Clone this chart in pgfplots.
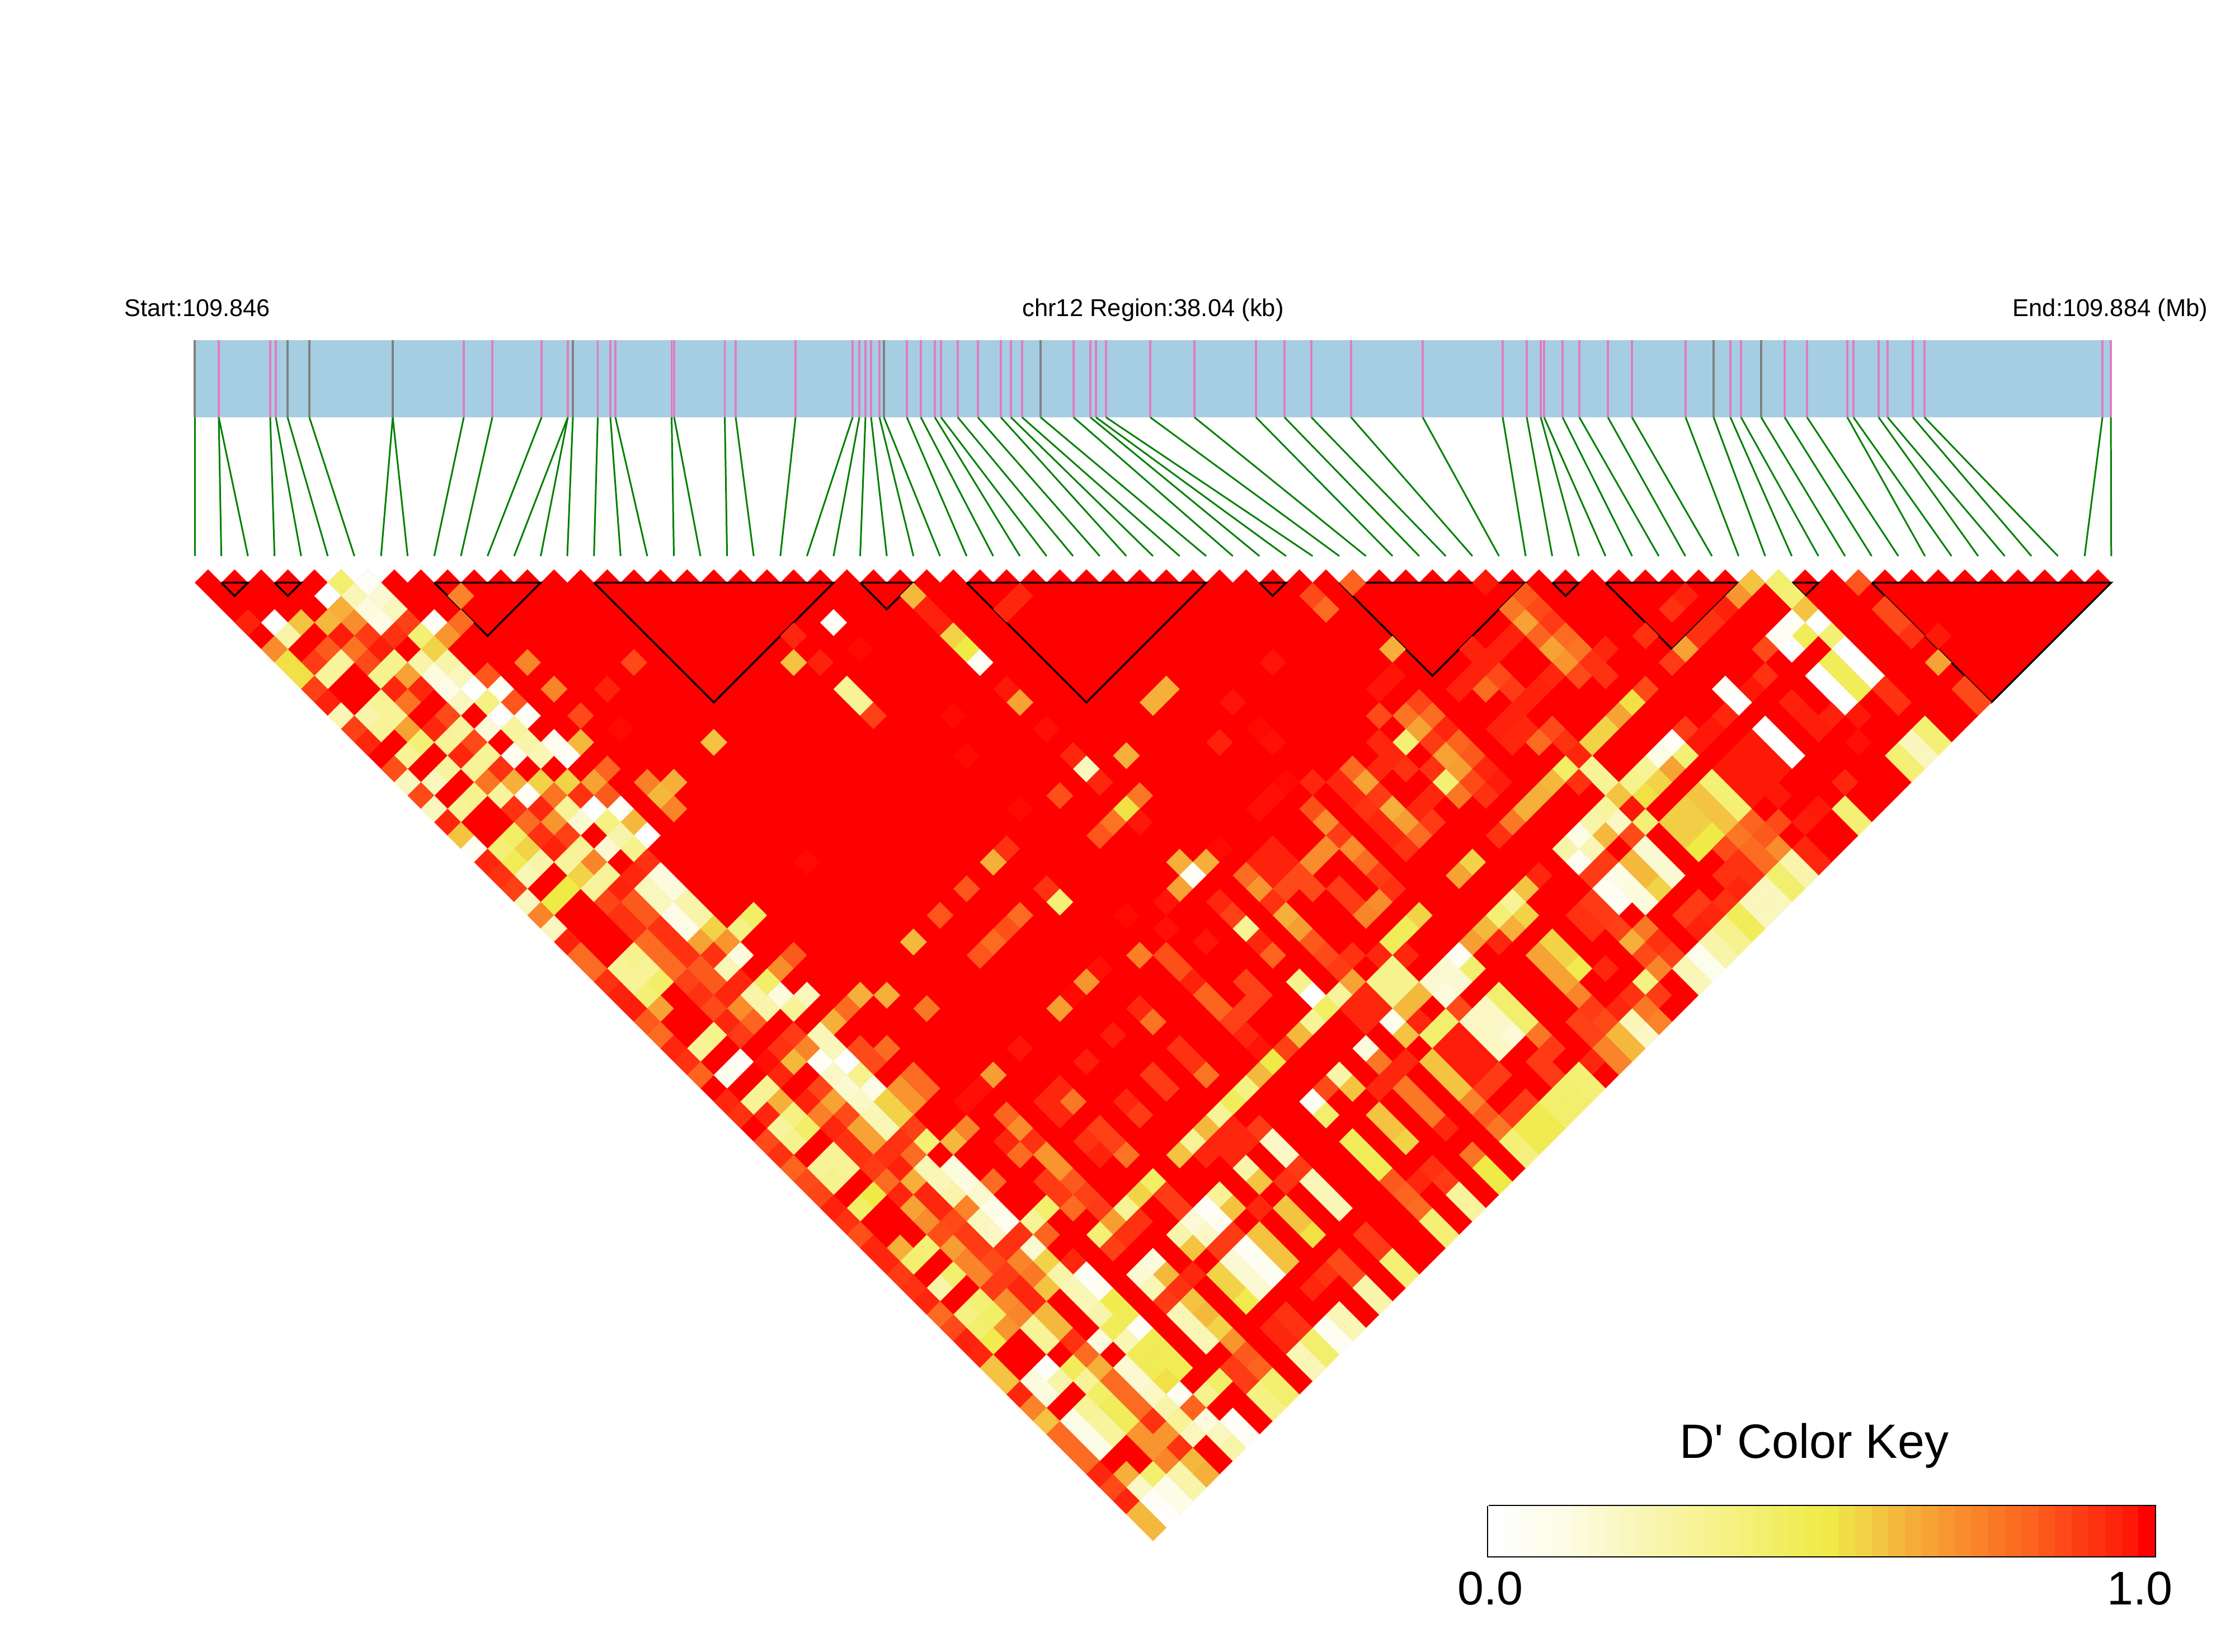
\documentclass[border=0pt]{standalone}
\usepackage{fontspec}
\setmainfont{Liberation Sans}
\newfontfamily\plainfont{Liberation Sans}
\usepackage{pgfplots}
\usepackage{pgfplotstable}
\pgfplotsset{compat=1.18}
\definecolor{barblue}{HTML}{A6CEE3}
\definecolor{snppink}{HTML}{E07CC0}
\definecolor{snpgrey}{HTML}{808080}
\definecolor{linkgreen}{HTML}{008000}
\pgfdeclareplotmark{ldcell}{%
  \pgfpathmoveto{\pgfqpoint{-6.83pt}{0pt}}\pgfpathlineto{\pgfqpoint{0pt}{6.83pt}}%
  \pgfpathlineto{\pgfqpoint{6.83pt}{0pt}}\pgfpathlineto{\pgfqpoint{0pt}{-6.83pt}}\pgfpathclose\pgfusepathqfill}
\pgfdeclareplotmark{keycell}{%
  \pgfpathrectangle{\pgfqpoint{-4.3pt}{-12.8pt}}{\pgfqpoint{8.6pt}{25.6pt}}\pgfusepathqfill}
% SNP: bar position (px), target position on the heat map (px)
\pgfplotstableread{
bar tgt
391 395.6
391 443.2
483 490.7
493 538.3
829 776.2
880 823.8
968 871.4
1015 919
1015 966.5
1068.5 1061.7
1091 1109.3
1100 1156.9
1200.5 1204.5
1205 1252
1295.5 1299.6
1315 1347.2
1422 1394.8
1524 1442.3
1536 1489.9
1547 1537.5
1557 1585.1
1572 1632.7
1621 1727.8
1646 1775.4
1671 1823
1682 1870.6
1712 1918.1
1748 1965.7
1789 2013.3
1807 2060.9
1827 2108.5
1919 2203.6
1949 2251.2
1959 2298.8
1977 2346.3
2056 2393.9
2135 2441.5
2245 2489.1
2296 2536.7
2344 2584.2
2415 2631.8
2543 2679.4
2686 2727
2729 2774.5
2754 2822.1
2760 2869.7
2793 2917.3
2823 2964.9
2874 3012.4
2917 3060
3013 3107.6
3093 3202.7
3112 3250.3
3190 3345.5
3230 3393.1
3302 3440.7
3313 3488.2
3358 3535.8
3374 3583.4
3419 3631
3440 3678.5
3758 3726.1
3773 3773.7
}\pinksnp
\pgfplotstableread{
bar tgt
348 348
514 585.9
553 633.5
702 681.1
702 728.6
1024 1014
1580 1680.2
1860 2156
3063 3155.2
3148 3297.9
}\greysnp
\newcommand{\blk}[4]{\addplot[black,line width=0.95pt,line join=miter,forget plot] table[row sep=crcr,x expr=348+23.79*\thisrow{u},y expr=1041.5+23.79*\thisrow{r}] {u r\\#1 0\\#2 0\\#3 #4\\#1 0\\};}
\begin{document}
\begin{tikzpicture}
\path[use as bounding box] (0,0) rectangle (39.95cm,29.53cm);
\begin{axis}[at={(0,0)},anchor=south west,scale only axis,width=39.95cm,height=29.53cm,
  xmin=0,xmax=3995,ymin=0,ymax=2953,y dir=reverse,hide axis,clip=false,
  colormap={ld}{rgb255(0cm)=(255,255,255) rgb255(10cm)=(253,252,230) rgb255(20cm)=(250,247,190) rgb255(30cm)=(247,243,150) rgb255(40cm)=(243,239,110) rgb255(50cm)=(240,234,70) rgb255(55cm)=(242,211,72) rgb255(60cm)=(244,184,61) rgb255(70cm)=(249,140,44) rgb255(80cm)=(252,100,31) rgb255(90cm)=(254,49,17) rgb255(100cm)=(255,0,0)},
  point meta min=0,point meta max=100]
% gene bar
\addplot[draw=none,fill=barblue,forget plot] coordinates {(348,607.5)(3774,607.5)(3774,746)(348,746)} --cycle;
\addplot[snppink,line width=1.1pt,forget plot,quiver={u=0,v=138.5}] table[x=bar,y expr=607.5] {\pinksnp};
\addplot[snpgrey,line width=1.1pt,forget plot,quiver={u=0,v=138.5}] table[x=bar,y expr=607.5] {\greysnp};
% links
\addplot[linkgreen,line width=0.85pt,forget plot,quiver={u=\thisrow{tgt}-\thisrow{bar},v=248}] table[x=bar,y expr=746] {\pinksnp};
\addplot[linkgreen,line width=0.85pt,forget plot,quiver={u=\thisrow{tgt}-\thisrow{bar},v=248}] table[x=bar,y expr=746] {\greysnp};
% cells at D'=1
\addplot[draw=none,fill=red,forget plot] table[row sep=crcr,x expr=348+23.79*\thisrow{u},y expr=1041.5+23.79*\thisrow{r}] {u r\\
0 0\\1 -1\\2 0\\3 -1\\4 0\\5 -1\\6 0\\7 -1\\8 0\\9 -1\\10 0\\11 -1\\12 0\\13 -1\\14 0\\15 -1\\16 0\\17 -1\\18 0\\19 -1\\20 0\\21 -1\\22 0\\23 -1\\24 0\\25 -1\\26 0\\27 -1\\28 0\\29 -1\\30 0\\31 -1\\32 0\\33 -1\\34 0\\35 -1\\36 0\\37 -1\\38 0\\39 -1\\40 0\\41 -1\\42 0\\43 -1\\44 0\\45 -1\\46 0\\47 -1\\48 0\\49 -1\\50 0\\51 -1\\52 0\\53 -1\\54 0\\55 -1\\56 0\\57 -1\\58 0\\59 -1\\60 0\\61 -1\\62 0\\63 -1\\64 0\\65 -1\\66 0\\67 -1\\68 0\\69 -1\\70 0\\71 -1\\72 0\\73 -1\\74 0\\75 -1\\76 0\\77 -1\\78 0\\79 -1\\80 0\\81 -1\\82 0\\83 -1\\84 0\\85 -1\\86 0\\87 -1\\88 0\\89 -1\\90 0\\91 -1\\92 0\\93 -1\\94 0\\95 -1\\96 0\\97 -1\\98 0\\99 -1\\100 0\\101 -1\\102 0\\103 -1\\104 0\\105 -1\\106 0\\107 -1\\108 0\\109 -1\\110 0\\111 -1\\112 0\\113 -1\\114 0\\115 -1\\116 0\\117 -1\\118 0\\119 -1\\120 0\\121 -1\\122 0\\123 -1\\124 0\\125 -1\\126 0\\127 -1\\128 0\\129 -1\\130 0\\131 -1\\132 0\\133 -1\\134 0\\135 -1\\136 0\\137 -1\\138 0\\139 -1\\140 0\\141 -1\\142 0\\143 -1\\144 0\\72 72\\0 0\\};
% cells at D'<1: position along the row, row, D' in percent
\addplot[scatter,only marks,mark=ldcell,scatter/use mapped color={fill=mapped color,draw=none},forget plot,
  point meta=\thisrow{v}] table[row sep=crcr,x expr=348+23.79*\thisrow{u},y expr=1041.5+23.79*\thisrow{r}] {u r v\\
11 0 40\\13 0 4\\87 0 80\\97 0 95\\117 0 58\\119 0 40\\125 0 83\\
10 1 0\\12 1 22\\14 1 15\\20 1 72\\54 1 60\\62 1 92\\84 1 85\\100 1 82\\112 1 93\\116 1 68\\120 1 38\\
11 2 62\\13 2 12\\15 2 20\\55 2 93\\61 2 92\\85 2 78\\99 2 75\\101 2 85\\111 2 90\\115 2 93\\121 2 58\\127 2 85\\
4 3 93\\6 3 0\\8 3 58\\10 3 60\\12 3 70\\14 3 10\\16 3 87\\18 3 4\\20 3 78\\48 3 4\\56 3 93\\100 3 65\\102 3 88\\114 3 90\\120 3 4\\122 3 0\\128 3 85\\
7 4 25\\11 4 94\\13 4 88\\15 4 90\\17 4 38\\19 4 68\\45 4 92\\57 4 55\\99 4 93\\101 4 80\\103 4 78\\109 4 90\\113 4 90\\119 4 4\\121 4 45\\123 4 38\\129 4 90\\131 4 95\\
6 5 70\\10 5 82\\12 5 76\\14 5 94\\18 5 55\\50 5 98\\58 5 50\\90 5 62\\96 5 93\\98 5 93\\102 5 65\\104 5 76\\106 5 92\\112 5 65\\118 5 85\\120 5 0\\124 5 0\\
7 6 52\\9 6 88\\11 6 28\\13 6 85\\15 6 32\\17 6 25\\19 6 25\\25 6 72\\33 6 85\\45 6 58\\47 6 93\\59 6 4\\81 6 96\\97 6 93\\103 6 68\\105 6 90\\111 6 88\\123 6 45\\125 6 0\\131 6 65\\
8 7 52\\10 7 28\\14 7 32\\16 7 65\\18 7 12\\20 7 20\\22 7 83\\90 7 96\\96 7 93\\98 7 85\\102 7 92\\104 7 85\\106 7 90\\118 7 90\\122 7 0\\124 7 45\\126 7 3\\
9 8 87\\15 8 92\\17 8 92\\19 8 10\\21 8 0\\23 8 4\\27 8 72\\31 8 93\\49 8 30\\61 8 95\\73 8 62\\89 8 96\\95 8 93\\97 8 78\\99 8 88\\101 8 93\\109 8 85\\115 8 3\\117 8 95\\123 8 0\\125 8 45\\127 8 90\\133 8 85\\
10 9 93\\14 9 30\\16 9 76\\20 9 20\\22 9 35\\24 9 83\\50 9 30\\62 9 65\\72 9 62\\78 9 96\\92 9 86\\100 9 93\\108 9 52\\116 9 0\\120 9 93\\124 9 0\\128 9 90\\134 9 85\\
11 10 22\\13 10 25\\15 10 30\\19 10 85\\23 10 2\\25 10 3\\29 10 85\\51 10 87\\57 10 98\\89 10 85\\91 10 76\\93 10 78\\99 10 93\\107 10 65\\115 10 92\\121 10 94\\123 10 93\\125 10 95\\
12 11 87\\14 11 30\\16 11 65\\18 11 92\\20 11 28\\22 11 14\\24 11 28\\32 11 98\\64 11 97\\80 11 98\\92 11 65\\94 11 92\\98 11 93\\100 11 92\\102 11 85\\106 11 55\\112 11 88\\114 11 95\\118 11 0\\122 11 94\\130 11 38\\
13 12 92\\17 12 38\\19 12 30\\21 12 85\\25 12 25\\27 12 6\\29 12 60\\39 12 58\\77 12 93\\81 12 97\\89 12 92\\91 12 38\\93 12 88\\95 12 80\\99 12 92\\101 12 78\\103 12 90\\105 12 55\\111 12 3\\113 12 95\\117 12 95\\119 12 0\\125 12 97\\129 12 20\\131 12 38\\
16 13 30\\20 13 92\\22 13 30\\24 13 6\\26 13 22\\28 13 3\\58 13 98\\66 13 92\\70 13 62\\90 13 92\\94 13 65\\96 13 82\\104 13 92\\110 13 10\\112 13 38\\116 13 95\\118 13 95\\120 13 0\\128 13 38\\130 13 20\\
15 14 84\\19 14 28\\21 14 30\\23 14 90\\31 14 80\\67 14 20\\87 14 78\\89 14 92\\91 14 90\\93 14 90\\95 14 66\\97 14 92\\103 14 42\\105 14 30\\109 14 30\\111 14 65\\115 14 95\\117 14 95\\119 14 95\\129 14 38\\
16 15 20\\18 15 20\\22 15 76\\24 15 62\\26 15 55\\28 15 55\\30 15 65\\34 15 73\\36 15 62\\68 15 92\\82 15 98\\84 15 92\\86 15 92\\88 15 65\\94 15 38\\96 15 85\\98 15 94\\102 15 60\\104 15 90\\106 15 30\\108 15 32\\110 15 55\\114 15 38\\116 15 95\\118 15 95\\124 15 92\\
17 16 85\\21 16 32\\23 16 28\\25 16 4\\27 16 76\\29 16 90\\31 16 82\\35 16 60\\65 16 84\\71 16 75\\81 16 97\\87 16 92\\89 16 88\\93 16 92\\95 16 75\\97 16 90\\101 16 62\\107 16 58\\109 16 52\\113 16 58\\115 16 38\\117 16 95\\119 16 95\\
18 17 20\\20 17 30\\24 17 90\\26 17 92\\28 17 30\\30 17 0\\32 17 3\\36 17 72\\62 17 98\\70 17 52\\80 17 97\\84 17 84\\88 17 90\\90 17 62\\92 17 92\\100 17 62\\106 17 28\\108 17 95\\112 17 56\\114 17 58\\116 17 38\\122 17 95\\124 17 38\\
19 18 92\\25 18 78\\27 18 68\\29 18 15\\31 18 35\\33 18 60\\69 18 76\\71 18 95\\85 18 70\\89 18 92\\91 18 66\\93 18 88\\99 18 75\\105 18 25\\107 18 18\\109 18 38\\111 18 56\\113 18 56\\115 18 58\\117 18 80\\119 18 85\\121 18 94\\125 18 38\\
20 19 58\\24 19 42\\26 19 90\\28 19 87\\32 19 25\\34 19 2\\68 19 83\\86 19 88\\90 19 92\\92 19 78\\98 19 90\\104 19 10\\106 19 60\\108 19 85\\112 19 56\\114 19 50\\116 19 75\\118 19 82\\
21 20 4\\23 20 38\\25 20 55\\27 20 93\\29 20 30\\31 20 15\\33 20 32\\61 20 90\\77 20 98\\81 20 93\\85 20 70\\87 20 70\\91 20 90\\103 20 25\\105 20 22\\109 20 15\\113 20 50\\115 20 85\\117 20 78\\119 20 70\\121 20 92\\
22 21 92\\24 21 46\\26 21 25\\28 21 28\\30 21 72\\34 21 90\\46 21 98\\60 21 62\\74 21 62\\76 21 62\\80 21 93\\82 21 93\\84 21 70\\88 21 78\\96 21 55\\104 21 5\\106 21 88\\108 21 60\\110 21 15\\116 21 90\\118 21 78\\120 21 25\\122 21 92\\
23 22 90\\25 22 22\\29 22 55\\31 22 30\\33 22 92\\35 22 12\\75 22 3\\79 22 78\\81 22 93\\83 22 85\\89 22 88\\95 22 65\\101 22 92\\105 22 88\\107 22 10\\109 22 60\\111 22 15\\115 22 90\\117 22 90\\119 22 40\\121 22 25\\
24 23 87\\28 23 50\\30 23 28\\32 23 93\\34 23 20\\36 23 12\\58 23 83\\64 23 90\\74 23 65\\80 23 68\\82 23 85\\84 23 85\\86 23 88\\90 23 90\\100 23 58\\106 23 5\\108 23 12\\110 23 55\\116 23 92\\118 23 20\\120 23 40\\
25 24 20\\27 24 50\\31 24 86\\33 24 82\\35 24 20\\37 24 25\\65 24 38\\73 24 96\\77 24 92\\81 24 90\\87 24 88\\89 24 70\\99 24 30\\105 24 88\\107 24 3\\109 24 12\\113 24 88\\115 24 90\\117 24 20\\119 24 20\\
26 25 72\\32 25 90\\34 25 82\\36 25 10\\38 25 25\\42 25 42\\56 25 83\\62 25 78\\70 25 98\\78 25 87\\82 25 62\\88 25 72\\92 25 55\\98 25 38\\100 25 55\\104 25 90\\106 25 88\\112 25 88\\114 25 92\\116 25 45\\118 25 20\\
27 26 20\\33 26 90\\35 26 90\\37 26 10\\39 26 55\\41 26 35\\61 26 84\\73 26 97\\79 26 30\\83 26 66\\91 26 45\\97 26 60\\99 26 62\\105 26 90\\107 26 87\\109 26 75\\113 26 93\\115 26 32\\117 26 45\\
28 27 93\\34 27 78\\36 27 90\\38 27 65\\40 27 68\\54 27 60\\60 27 78\\76 27 96\\80 27 92\\84 27 82\\90 27 45\\96 27 66\\98 27 92\\102 27 55\\108 27 62\\110 27 90\\114 27 25\\116 27 32\\
29 28 78\\33 28 32\\35 28 78\\37 28 90\\39 28 90\\41 28 12\\45 28 82\\59 28 83\\71 28 73\\73 28 84\\81 28 80\\85 28 85\\87 28 90\\89 28 92\\91 28 92\\95 28 3\\101 28 65\\103 28 55\\109 28 85\\111 28 87\\113 28 8\\115 28 25\\
30 29 78\\32 29 30\\34 29 30\\36 29 78\\38 29 82\\40 29 22\\44 29 70\\68 29 97\\74 29 84\\86 29 88\\90 29 32\\94 29 15\\96 29 40\\102 29 65\\104 29 48\\106 29 92\\110 29 72\\112 29 22\\114 29 8\\
31 30 90\\33 30 30\\35 30 42\\37 30 87\\39 30 82\\41 30 92\\43 30 42\\67 30 68\\75 30 93\\79 30 87\\83 30 32\\87 30 65\\89 30 32\\91 30 32\\93 30 15\\95 30 15\\103 30 65\\109 30 35\\113 30 22\\
32 31 93\\34 31 38\\38 31 90\\40 31 92\\42 31 25\\44 31 12\\46 31 20\\50 31 62\\52 31 62\\66 31 98\\76 31 80\\80 31 87\\84 31 0\\86 31 28\\88 31 92\\90 31 32\\92 31 60\\94 31 12\\98 31 40\\104 31 72\\108 31 90\\110 31 88\\
33 32 94\\35 32 65\\39 32 85\\41 32 70\\43 32 25\\45 32 30\\49 32 78\\55 32 75\\65 32 66\\71 32 92\\77 32 80\\79 32 87\\85 32 42\\87 32 92\\89 32 92\\91 32 60\\95 32 85\\97 32 18\\99 32 40\\105 32 88\\107 32 92\\109 32 75\\
34 33 82\\40 33 92\\42 33 80\\48 33 62\\72 33 76\\78 33 87\\84 33 30\\88 33 92\\90 33 8\\92 33 92\\94 33 40\\96 33 18\\98 33 18\\100 33 40\\104 33 87\\106 33 85\\108 33 22\\110 33 72\\
35 34 78\\39 34 32\\41 34 88\\45 34 88\\47 34 22\\69 34 94\\79 34 92\\83 34 60\\91 34 58\\93 34 40\\95 34 94\\97 34 18\\99 34 14\\101 34 75\\105 34 87\\107 34 60\\109 34 18\\
36 35 92\\38 35 30\\44 35 90\\46 35 72\\48 35 20\\50 35 85\\52 35 78\\62 35 96\\74 35 90\\80 35 96\\82 35 87\\88 35 12\\94 35 94\\96 35 94\\98 35 18\\102 35 88\\106 35 72\\108 35 60\\
37 36 90\\41 36 3\\43 36 97\\45 36 60\\47 36 4\\49 36 0\\51 36 85\\67 36 94\\75 36 90\\81 36 50\\89 36 75\\91 36 92\\93 36 58\\95 36 94\\97 36 94\\101 36 88\\105 36 92\\107 36 72\\
38 37 80\\40 37 8\\44 37 92\\48 37 18\\50 37 32\\54 37 78\\60 37 66\\72 37 88\\76 37 76\\80 37 60\\86 37 25\\90 37 92\\94 37 58\\96 37 94\\98 37 88\\102 37 88\\104 37 38\\
43 38 30\\47 38 86\\49 38 15\\51 38 10\\53 38 68\\55 38 78\\59 38 97\\65 38 92\\73 38 88\\79 38 35\\85 38 85\\87 38 58\\89 38 92\\91 38 75\\95 38 58\\97 38 88\\103 38 40\\105 38 38\\
40 39 92\\42 39 30\\44 39 62\\46 39 93\\48 39 65\\50 39 18\\52 39 55\\54 39 68\\58 39 97\\64 39 92\\66 39 75\\70 39 92\\78 39 45\\84 39 4\\92 39 75\\96 39 72\\100 39 88\\102 39 40\\104 39 40\\
41 40 90\\43 40 92\\45 40 35\\47 40 73\\49 40 85\\51 40 22\\53 40 55\\61 40 80\\65 40 92\\71 40 88\\77 40 30\\85 40 40\\89 40 58\\93 40 75\\97 40 82\\99 40 88\\101 40 47\\103 40 40\\
44 41 28\\46 41 42\\48 41 92\\50 41 65\\52 41 22\\54 41 87\\58 41 72\\62 41 70\\68 41 87\\76 41 60\\78 41 92\\80 41 88\\90 41 58\\94 41 92\\98 41 75\\100 41 47\\102 41 47\\
43 42 85\\45 42 32\\49 42 90\\51 42 65\\53 42 90\\55 42 38\\57 42 60\\61 42 92\\63 42 90\\67 42 90\\69 42 87\\75 42 30\\77 42 92\\79 42 92\\81 42 18\\87 42 45\\91 42 55\\99 42 38\\101 42 47\\
44 43 90\\48 43 30\\50 43 90\\52 43 90\\54 43 78\\62 43 78\\64 43 68\\68 43 93\\70 43 76\\74 43 58\\76 43 92\\78 43 92\\82 43 18\\88 43 45\\96 43 76\\100 43 36\\
45 44 80\\47 44 30\\49 44 30\\51 44 88\\53 44 93\\55 44 22\\57 44 12\\65 44 68\\79 44 25\\83 44 88\\89 44 46\\93 44 90\\97 44 50\\
46 45 85\\48 45 32\\52 45 78\\54 45 62\\56 45 22\\58 45 12\\60 45 78\\64 45 88\\66 45 82\\72 45 42\\80 45 58\\82 45 90\\84 45 22\\90 45 82\\92 45 92\\94 45 88\\98 45 50\\
47 46 86\\51 46 50\\53 46 92\\55 46 92\\57 46 25\\59 46 16\\65 46 88\\67 46 87\\71 46 55\\73 46 88\\77 46 30\\85 46 22\\91 46 80\\95 46 28\\
48 47 93\\50 47 42\\54 47 65\\56 47 92\\58 47 72\\60 47 10\\64 47 40\\66 47 78\\68 47 88\\70 47 30\\74 47 88\\76 47 3\\78 47 58\\80 47 92\\82 47 58\\86 47 22\\92 47 78\\96 47 28\\
49 48 90\\55 48 70\\57 48 85\\59 48 20\\61 48 6\\63 48 30\\69 48 66\\71 48 90\\75 48 14\\77 48 6\\83 48 58\\93 48 38\\
50 49 84\\56 49 84\\58 49 88\\60 49 18\\62 49 90\\64 49 80\\68 49 38\\70 49 90\\74 49 25\\76 49 18\\78 49 88\\80 49 58\\84 49 52\\88 49 88\\94 49 38\\
51 50 92\\53 50 62\\55 50 38\\57 50 66\\59 50 88\\61 50 90\\63 50 15\\69 50 87\\75 50 58\\77 50 88\\79 50 3\\81 50 58\\89 50 88\\
52 51 92\\54 51 40\\58 51 72\\60 51 85\\62 51 72\\64 51 55\\66 51 92\\72 51 12\\78 51 15\\80 51 5\\82 51 58\\86 51 85\\90 51 38\\
53 52 88\\57 52 40\\59 52 72\\61 52 88\\63 52 75\\65 52 25\\67 52 4\\71 52 15\\73 52 60\\75 52 92\\77 52 55\\79 52 15\\81 52 5\\85 52 90\\87 52 85\\91 52 38\\
54 53 90\\56 53 25\\60 53 88\\62 53 92\\64 53 58\\66 53 22\\68 53 5\\72 53 22\\74 53 90\\78 53 55\\80 53 15\\84 53 92\\88 53 25\\
55 54 92\\59 54 38\\61 54 70\\63 54 92\\67 54 22\\69 54 48\\73 54 88\\75 54 58\\79 54 48\\89 54 25\\
56 55 78\\58 55 35\\60 55 42\\62 55 72\\64 55 60\\68 55 25\\70 55 46\\74 55 22\\76 55 60\\82 55 90\\86 55 22\\
57 56 85\\59 56 40\\61 56 68\\63 56 30\\65 56 60\\69 56 45\\71 56 3\\75 56 22\\77 56 55\\81 56 92\\83 56 90\\85 56 5\\87 56 22\\
58 57 93\\60 57 48\\64 57 30\\66 57 90\\68 57 12\\70 57 22\\72 57 46\\76 57 22\\78 57 68\\82 57 92\\84 57 40\\86 57 5\\
59 58 92\\67 58 78\\71 58 46\\73 58 46\\79 58 82\\83 58 22\\85 58 40\\
60 59 58\\64 59 2\\66 59 45\\68 59 62\\70 59 15\\72 59 46\\74 59 46\\78 59 88\\80 59 80\\84 59 22\\
61 60 58\\63 60 12\\65 60 25\\67 60 30\\69 60 78\\71 60 15\\73 60 52\\77 60 42\\79 60 88\\81 60 40\\
62 61 92\\64 61 12\\68 61 42\\70 61 78\\72 61 18\\74 61 6\\76 61 32\\80 61 35\\82 61 40\\
63 62 72\\67 62 30\\69 62 45\\71 62 78\\73 62 25\\75 62 80\\81 62 35\\
64 63 58\\66 63 10\\68 63 28\\70 63 45\\72 63 90\\74 63 30\\76 63 12\\78 63 3\\
65 64 78\\67 64 10\\69 64 28\\71 64 68\\73 64 68\\75 64 20\\77 64 20\\79 64 4\\
66 65 78\\68 65 10\\72 65 68\\74 65 90\\78 65 25\\
67 66 78\\73 66 72\\75 66 60\\
68 67 92\\70 67 62\\72 67 40\\74 67 25\\76 67 62\\
69 68 85\\71 68 18\\73 68 10\\75 68 25\\
70 69 92\\72 69 4\\74 69 10\\
71 70 60\\73 70 2\\
72 71 60\\};
% haplotype blocks
\blk{2}{4}{3}{1}
\blk{6}{8}{7}{1}
\blk{18}{26}{22}{4}
\blk{30}{48}{39}{9}
\blk{50}{54}{52}{2}
\blk{58}{76}{67}{9}
\blk{80}{82}{81}{1}
\blk{86}{100}{93}{7}
\blk{102}{104}{103}{1}
\blk{106}{116}{111}{5}
\blk{120}{122}{121}{1}
\blk{126}{144}{135}{9}
% colour key
\addplot[scatter,only marks,mark=keycell,scatter/use mapped color={fill=mapped color,draw=none},forget plot,point meta=\thisrow{v}] table[row sep=crcr,x=x] {x y v\\
2675 2737 0\\2705 2737 2.5\\2735 2737 5\\2765 2737 7.5\\2794 2737 10\\2824 2737 12.5\\2854 2737 15\\2884 2737 17.5\\2914 2737 20\\2943 2737 22.5\\2973 2737 25\\3003 2737 27.5\\3033 2737 30\\3063 2737 32.5\\3092 2737 35\\3122 2737 37.5\\3152 2737 40\\3182 2737 42.5\\3212 2737 45\\3241 2737 47.5\\3271 2737 50\\3301 2737 52.5\\3331 2737 55\\3361 2737 57.5\\3390 2737 60\\3420 2737 62.5\\3450 2737 65\\3480 2737 67.5\\3510 2737 70\\3539 2737 72.5\\3569 2737 75\\3599 2737 77.5\\3629 2737 80\\3659 2737 82.5\\3688 2737 85\\3718 2737 87.5\\3748 2737 90\\3778 2737 92.5\\3808 2737 95\\3837 2737 100\\};
\addplot[black,line width=1.2pt,forget plot] coordinates {(2660.5,2692)(3852,2692)(3852,2782)(2660.5,2782)(2660.5,2692)};
\node[inner sep=0pt,anchor=base west,font=\fontsize{12.3}{14}\selectfont] at (axis cs:222,565) {Start:109.846};
\node[inner sep=0pt,anchor=base,font=\fontsize{12.4}{14}\selectfont] at (axis cs:2061,565) {chr12 Region:38.04 (kb)};
\node[inner sep=0pt,anchor=base east,font=\fontsize{12.4}{14}\selectfont] at (axis cs:3947,565) {End:109.884 (Mb)};
\node[inner sep=0pt,anchor=base,font=\plainfont\fontsize{24.5}{28}\selectfont] at (axis cs:3243,2606) {D' Color Key};
\node[inner sep=0pt,anchor=base,font=\fontsize{24}{28}\selectfont] at (axis cs:2664,2868) {0.0};
\node[inner sep=0pt,anchor=base,font=\fontsize{24}{28}\selectfont] at (axis cs:3825,2868) {1.0};
\end{axis}
\end{tikzpicture}
\end{document}
